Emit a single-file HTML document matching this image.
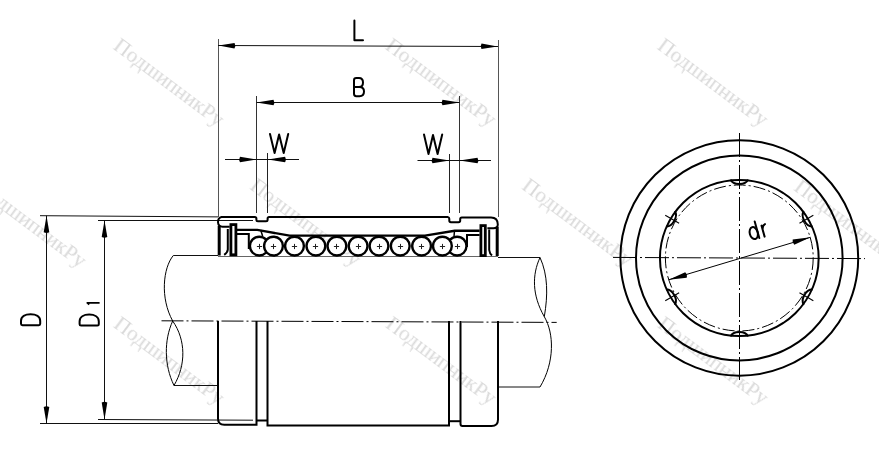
<!DOCTYPE html>
<html><head><meta charset="utf-8"><style>html,body{margin:0;padding:0;background:#fff;}svg{display:block;}</style></head>
<body><svg width="879" height="450" viewBox="0 0 879 450">
<rect width="879" height="450" fill="#fff"/>
<g font-family="Liberation Serif" font-size="21.4" fill="#dadada" opacity="0.999"><text transform="translate(121.2 36.3) rotate(36.8)" x="0" y="15">ПодшипникРу</text><text transform="translate(393.2 36.3) rotate(36.8)" x="0" y="15">ПодшипникРу</text><text transform="translate(665.2 36.3) rotate(36.8)" x="0" y="15">ПодшипникРу</text><text transform="translate(-16.5 177.5) rotate(36.8)" x="0" y="15">ПодшипникРу</text><text transform="translate(257.8 176.3) rotate(36.8)" x="0" y="15">ПодшипникРу</text><text transform="translate(529.8 176.3) rotate(36.8)" x="0" y="15">ПодшипникРу</text><text transform="translate(801.8 177.6) rotate(36.8)" x="0" y="15">ПодшипникРу</text><text transform="translate(121.5 314.6) rotate(36.8)" x="0" y="15">ПодшипникРу</text><text transform="translate(393.5 314.6) rotate(36.8)" x="0" y="15">ПодшипникРу</text><text transform="translate(665.5 314.6) rotate(36.8)" x="0" y="15">ПодшипникРу</text></g>
<line x1="218.5" y1="39" x2="218.5" y2="217" stroke="#555" stroke-width="1" />
<line x1="498.5" y1="40" x2="498.5" y2="217" stroke="#555" stroke-width="1" />
<line x1="218" y1="45.5" x2="498" y2="46.5" stroke="#111" stroke-width="1" />
<path d="M218.50 45.50L234.44 48.62Q236.10 45.85 234.56 43.02Z" fill="#000"/>
<path d="M497.50 46.50L481.56 43.38Q479.90 46.15 481.44 48.98Z" fill="#000"/>
<line x1="256.5" y1="96" x2="256.5" y2="213" stroke="#333" stroke-width="1" />
<line x1="459.5" y1="96" x2="459.5" y2="213" stroke="#333" stroke-width="1" />
<line x1="256.5" y1="102.5" x2="459.5" y2="102.5" stroke="#111" stroke-width="1" />
<path d="M256.50 102.50L273.50 105.30Q275.10 102.50 273.50 99.70Z" fill="#000"/>
<path d="M459.50 102.50L442.50 99.70Q440.90 102.50 442.50 105.30Z" fill="#000"/>
<line x1="267.5" y1="153" x2="267.5" y2="213" stroke="#222" stroke-width="1" />
<line x1="225" y1="159.5" x2="299" y2="159.5" stroke="#111" stroke-width="1" />
<path d="M256.50 159.50L240.00 156.70Q238.40 159.50 240.00 162.30Z" fill="#000"/>
<path d="M267.50 159.50L285.00 162.30Q286.60 159.50 285.00 156.70Z" fill="#000"/>
<line x1="449.5" y1="154" x2="449.5" y2="213" stroke="#222" stroke-width="1" />
<line x1="417.5" y1="160.5" x2="491" y2="160.5" stroke="#111" stroke-width="1" />
<path d="M449.50 160.50L432.50 157.70Q430.90 160.50 432.50 163.30Z" fill="#000"/>
<path d="M459.50 160.50L477.50 163.30Q479.10 160.50 477.50 157.70Z" fill="#000"/>
<line x1="40" y1="215.7" x2="218" y2="216.9" stroke="#111" stroke-width="1" />
<line x1="40" y1="423.5" x2="218" y2="423.5" stroke="#111" stroke-width="1" />
<line x1="46.5" y1="215.7" x2="46.5" y2="423.5" stroke="#111" stroke-width="1" />
<path d="M46.50 215.70L43.70 232.20Q46.50 233.80 49.30 232.20Z" fill="#000"/>
<path d="M46.50 423.50L49.30 407.00Q46.50 405.40 43.70 407.00Z" fill="#000"/>
<line x1="98" y1="220.5" x2="253" y2="220.5" stroke="#111" stroke-width="1" />
<line x1="98" y1="419.5" x2="253" y2="420.2" stroke="#111" stroke-width="1" />
<line x1="104.5" y1="220.5" x2="104.5" y2="419.5" stroke="#111" stroke-width="1" />
<path d="M104.50 220.50L101.70 237.00Q104.50 238.60 107.30 237.00Z" fill="#000"/>
<path d="M104.50 419.50L107.30 402.50Q104.50 400.90 101.70 402.50Z" fill="#000"/>
<path d="M354.4 20.5V40.2H363" stroke="#000" stroke-width="2" fill="none" stroke-linecap="round" stroke-linejoin="round"/>
<path d="M354 87.1V80.3Q354 78 356.3 78H359C361.6 78 363 79.8 363 82.5C363 85.3 361.6 87.1 359 87.1H354V93.8Q354 96.2 356.3 96.2H359.5C362.4 96.2 364 94.2 364 91.6C364 89 362.4 87.1 359.5 87.1" stroke="#000" stroke-width="2" fill="none" stroke-linecap="round" stroke-linejoin="round"/>
<path d="M270 134L274.6 153L279.1 134.5L283.7 153L288.2 134" stroke="#000" stroke-width="2" fill="none" stroke-linecap="round" stroke-linejoin="round"/>
<path d="M424 134.5L428.5 154L433 135L437.6 154L442.2 134.5" stroke="#000" stroke-width="2" fill="none" stroke-linecap="round" stroke-linejoin="round"/>
<path d="M22.5 325.2H38.8Q40.2 325.2 40.2 323.8V321C40.2 316.6 36 314.2 30.6 314.2C25.2 314.2 21 316.6 21 321V323.8Q21 325.2 22.5 325.2Z" stroke="#000" stroke-width="2" fill="none" stroke-linecap="round" stroke-linejoin="round"/>
<path d="M81.1 325.6H97.4Q98.8 325.6 98.8 324.2V321.4C98.8 317 94.6 314.5 89.2 314.5C83.8 314.5 79.6 317 79.6 321.4V324.2Q79.6 325.6 81.1 325.6Z" stroke="#000" stroke-width="2" fill="none" stroke-linecap="round" stroke-linejoin="round"/>
<path d="M99.6 302.9H87.2L89.2 304.6" stroke="#000" stroke-width="1.6" fill="none" stroke-linejoin="round"/>
<g transform="translate(759.3 238.1) rotate(-15.5)"><path d="M0 0V-17.2M5.5 0V-11.4M5.5 -7.5Q6.5 -11.6 9.2 -12" stroke="#000" stroke-width="2" fill="none" stroke-linecap="round" stroke-linejoin="round"/><ellipse cx="-4.0" cy="-6.3" rx="4.0" ry="6.1" stroke="#000" stroke-width="2" fill="none" stroke-linecap="round" stroke-linejoin="round"/></g>
<line x1="173.3" y1="255.5" x2="218" y2="255.5" stroke="#111" stroke-width="1" />
<line x1="218" y1="256.5" x2="498" y2="256.5" stroke="#666" stroke-width="1" />
<line x1="498" y1="257.5" x2="540" y2="257.5" stroke="#111" stroke-width="1" />
<line x1="174" y1="385.5" x2="218" y2="385.5" stroke="#111" stroke-width="1" />
<line x1="498" y1="387" x2="540" y2="387" stroke="#111" stroke-width="1" />
<path d="M173.3 255.5C163 268 160 298 172.7 321" stroke="#000" stroke-width="1" fill="none"/>
<path d="M172.7 321C164 340 164 365 174 385.5M172.7 321C186 340 186 365 174 385.5" stroke="#000" stroke-width="1" fill="none"/>
<path d="M540 257.5C532 275 532 295 544.3 316.7M540 257.5C548 275 548 295 544.3 316.7" stroke="#000" stroke-width="1" fill="none"/>
<path d="M544.3 316.7C554 333 555 362 540 387" stroke="#000" stroke-width="1" fill="none"/>
<path d="M161.5 320.8L556.7 322.4" stroke="#000" stroke-width="1" stroke-dasharray="22 3 2 3" fill="none"/>
<path d="M218 321V418.5Q218 424.8 224.3 424.8H256.5V321" stroke="#000" stroke-width="2" fill="none"/>
<path d="M256.5 420.5H267.5" stroke="#000" stroke-width="2" fill="none"/>
<path d="M267.5 321V425.5H449V321" stroke="#000" stroke-width="2" fill="none"/>
<path d="M449 421.2H460.5" stroke="#000" stroke-width="2" fill="none"/>
<path d="M460.5 321V424Q460.5 426 462.5 426H491.5Q498 426 498 419.5V321" stroke="#000" stroke-width="2" fill="none"/>
<path d="M221 216.9H254.8Q256.4 216.9 256.4 218.6V219.8Q256.4 221.3 258 221.3H266Q267.6 221.3 267.6 219.8V218.6Q267.6 216.9 269.2 216.9H447.7Q449.3 217.1 449.3 218.8V220.6Q449.3 222.3 451 222.3H458.5Q460.2 222.3 460.2 220.6V219Q460.2 217.4 461.8 217.4H491Q497.8 217.4 497.8 224.5Q497.8 228.2 493.5 228.2H487.4" stroke="#000" stroke-width="2" fill="none"/>
<path d="M221.5 216.9Q218 217.5 218 222.3Q218.3 226.7 222.5 226.7H229.7" stroke="#000" stroke-width="2" fill="none"/>
<path d="M219.2 226V255.5M497.2 227V256" stroke="#000" stroke-width="3" fill="none"/>
<path d="M227.8 229V249.5Q227.6 252.5 224.2 254.8M489.2 229.5V250Q489.6 253.5 492 255.6" stroke="#000" stroke-width="2" fill="none"/>
<rect x="230.9" y="224.6" width="5" height="30.2" stroke="#000" stroke-width="2.8" fill="none"/>
<rect x="480.9" y="225.6" width="4.4" height="30" stroke="#000" stroke-width="2.8" fill="none"/>
<path d="M237 229.9H257.3L289.6 235.6H425L454.7 230.8H479.6" stroke="#000" stroke-width="2.4" fill="none"/>
<path d="M237 234H248.8V249M479.6 235H467V247" stroke="#000" stroke-width="2" fill="none"/>
<path d="M260.7 230.1L262.6 236M454.5 230.8L454 236.5" stroke="#000" stroke-width="1.5" fill="none"/>
<circle cx="259.3" cy="246.1" r="9.4" stroke="#000" stroke-width="2.4" fill="#fff"/>
<circle cx="273.5" cy="246.1" r="9.4" stroke="#000" stroke-width="2.4" fill="#fff"/>
<circle cx="457.1" cy="246.1" r="9.4" stroke="#000" stroke-width="2.4" fill="#fff"/>
<circle cx="442.4" cy="246.1" r="9.4" stroke="#000" stroke-width="2.4" fill="#fff"/>
<circle cx="294.5" cy="246.1" r="9.4" stroke="#000" stroke-width="2.4" fill="#fff"/>
<circle cx="315.9" cy="246.1" r="9.4" stroke="#000" stroke-width="2.4" fill="#fff"/>
<circle cx="336.9" cy="246.1" r="9.4" stroke="#000" stroke-width="2.4" fill="#fff"/>
<circle cx="358.1" cy="246.1" r="9.4" stroke="#000" stroke-width="2.4" fill="#fff"/>
<circle cx="379" cy="246.1" r="9.4" stroke="#000" stroke-width="2.4" fill="#fff"/>
<circle cx="400.25" cy="246.1" r="9.4" stroke="#000" stroke-width="2.4" fill="#fff"/>
<circle cx="421.6" cy="246.1" r="9.4" stroke="#000" stroke-width="2.4" fill="#fff"/>
<path d="M256.9 246.5H262.1M259.5 243.9V249.1M270.9 246.5H276.1M273.5 243.9V249.1M291.9 246.5H297.1M294.5 243.9V249.1M312.9 246.5H318.1M315.5 243.9V249.1M333.9 246.5H339.1M336.5 243.9V249.1M355.9 246.5H361.1M358.5 243.9V249.1M376.9 246.5H382.1M379.5 243.9V249.1M397.9 246.5H403.1M400.5 243.9V249.1M418.9 246.5H424.1M421.5 243.9V249.1M439.9 246.5H445.1M442.5 243.9V249.1M454.9 246.5H460.1M457.5 243.9V249.1" stroke="#222" stroke-width="1" fill="none"/>
<ellipse cx="739.3" cy="258" rx="118.9" ry="117.7" stroke="#000" stroke-width="2" fill="none"/>
<ellipse cx="739.3" cy="258" rx="103.3" ry="102.5" stroke="#000" stroke-width="2" fill="none"/>
<ellipse cx="739.3" cy="258" rx="79.35" ry="78.1" stroke="#000" stroke-width="2" fill="none"/>
<ellipse cx="739.3" cy="258" rx="73.9" ry="73" stroke="#000" stroke-width="1" fill="none" stroke-dasharray="12 3 2 3"/>
<path d="M613 257.4L865 258.6" stroke="#000" stroke-width="1" stroke-dasharray="24 3 2 3" fill="none"/>
<path d="M739.5 133V380" stroke="#000" stroke-width="1" stroke-dasharray="24 3 2 3" fill="none"/>
<path d="M730.50 179.60C733.10 185.46 745.50 185.46 748.10 179.60" stroke="#000" stroke-width="2" fill="none"/>
<path d="M748.10 336.40C745.50 330.54 733.10 330.54 730.50 336.40" stroke="#000" stroke-width="2" fill="none"/>
<path d="M803.88 211.18C800.02 216.36 806.22 227.10 812.68 226.42" stroke="#000" stroke-width="2" fill="none"/>
<line x1="799.49" y1="223.25" x2="813.35" y2="215.25" stroke="#000" stroke-width="1.1" />
<path d="M812.68 289.58C806.22 288.90 800.02 299.64 803.88 304.82" stroke="#000" stroke-width="2" fill="none"/>
<line x1="799.49" y1="292.75" x2="813.35" y2="300.75" stroke="#000" stroke-width="1.1" />
<path d="M665.92 226.42C672.38 227.10 678.58 216.36 674.72 211.18" stroke="#000" stroke-width="2" fill="none"/>
<line x1="679.11" y1="223.25" x2="665.25" y2="215.25" stroke="#000" stroke-width="1.1" />
<path d="M674.72 304.82C678.58 299.64 672.38 288.90 665.92 289.58" stroke="#000" stroke-width="2" fill="none"/>
<line x1="679.11" y1="292.75" x2="665.25" y2="300.75" stroke="#000" stroke-width="1.1" />
<line x1="668.75" y1="279.75" x2="810.6" y2="237.25" stroke="#000" stroke-width="1" />
<path d="M668.75 279.75L686.72 277.63Q687.50 274.50 685.21 272.23Z" fill="#000"/>
<path d="M810.60 237.25L792.67 239.48Q791.90 242.62 794.21 244.87Z" fill="#000"/>
</svg></body></html>
